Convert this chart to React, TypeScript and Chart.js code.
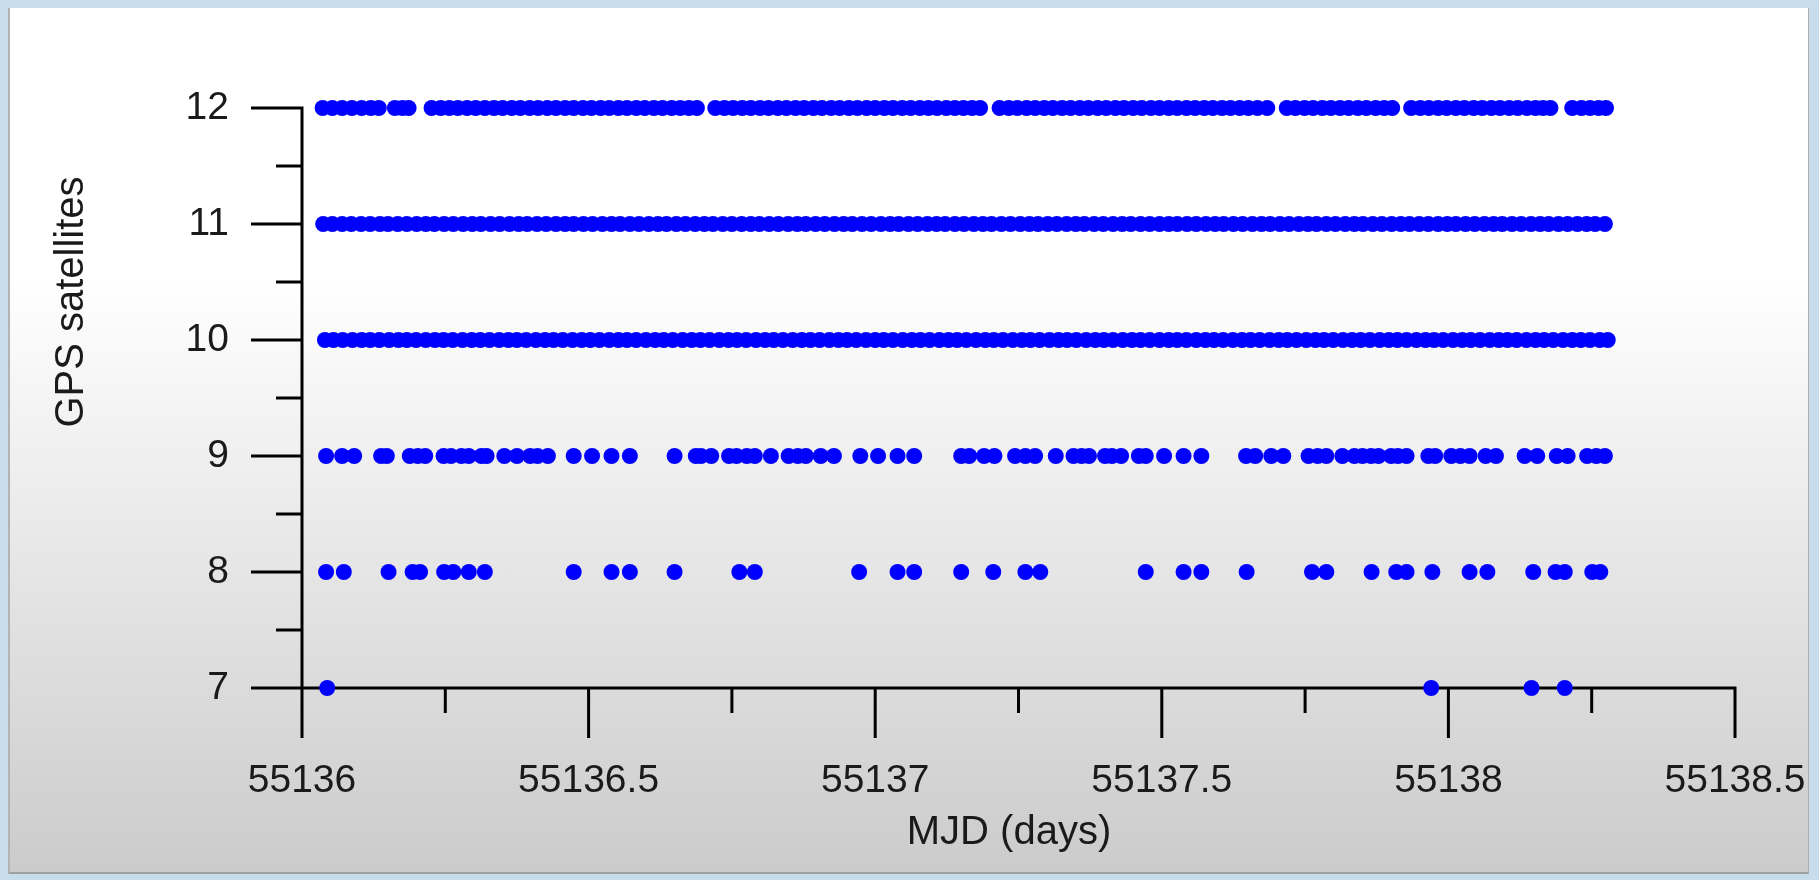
import { useEffect, useRef } from 'react';
import { Chart, registerables } from 'chart.js';

Chart.register(...registerables);

const MJD_BASE = 55136;

const xTickValues = [55136, 55136.5, 55137, 55137.5, 55138, 55138.5];
const xTickLabels = ['55136', '55136.5', '55137', '55137.5', '55138', '55138.5'];
const xMinorTicks = [55136.25, 55136.75, 55137.25, 55137.75, 55138.25];
const yTickValues = [7, 8, 9, 10, 11, 12];
const yTickLabels = ['7', '8', '9', '10', '11', '12'];
const yMinorTicks = [7.5, 8.5, 9.5, 10.5, 11.5];
const xTitle = 'MJD (days)';
const yTitle = 'GPS satellites';

// day offsets from MJD_BASE for each satellite count
const row12 = [
  0.036, 0.053, 0.070, 0.087, 0.104, 0.120, 0.134,
  0.162, 0.175, 0.186,
  0.226, 0.242, 0.257, 0.272, 0.288, 0.303, 0.319, 0.335, 0.350, 0.366, 0.381, 0.397, 0.412, 0.428, 0.443, 0.459,
  0.474, 0.490, 0.505, 0.521, 0.536, 0.552, 0.567, 0.583, 0.598, 0.614, 0.629, 0.645, 0.660, 0.675, 0.689,
  0.721, 0.737, 0.752, 0.768, 0.783, 0.799, 0.814, 0.830, 0.845, 0.861, 0.876, 0.892, 0.907, 0.923, 0.938, 0.954,
  0.969, 0.985, 1.000, 1.016, 1.031, 1.047, 1.062, 1.078, 1.093, 1.108, 1.124, 1.139, 1.154, 1.169, 1.183,
  1.217, 1.233, 1.248, 1.264, 1.279, 1.295, 1.310, 1.326, 1.341, 1.357, 1.372, 1.388, 1.403, 1.419, 1.434, 1.450,
  1.465, 1.481, 1.496, 1.512, 1.527, 1.543, 1.558, 1.574, 1.589, 1.605, 1.620, 1.636, 1.651, 1.667, 1.684,
  1.718, 1.733, 1.749, 1.764, 1.780, 1.795, 1.811, 1.826, 1.842, 1.857, 1.873, 1.888, 1.902,
  1.935, 1.951, 1.966, 1.982, 1.997, 2.013, 2.028, 2.044, 2.059, 2.075, 2.090, 2.106, 2.121, 2.137, 2.152, 2.165, 2.178,
  2.216, 2.232, 2.247, 2.262, 2.275,
];

const row11 = [
  0.037, 0.053, 0.070, 0.086, 0.103, 0.119, 0.136, 0.150, 0.167, 0.183, 0.200, 0.216, 0.231, 0.248, 0.264, 0.281,
  0.297, 0.312, 0.329, 0.345, 0.362, 0.378, 0.393, 0.410, 0.426, 0.443, 0.459, 0.474, 0.491, 0.507, 0.524, 0.540,
  0.555, 0.572, 0.588, 0.605, 0.621, 0.636, 0.653, 0.669, 0.686, 0.702, 0.717, 0.734, 0.750, 0.767, 0.783, 0.798,
  0.815, 0.831, 0.848, 0.864, 0.879, 0.896, 0.912, 0.929, 0.945, 0.960, 0.977, 0.993, 1.010, 1.026, 1.041, 1.058,
  1.074, 1.091, 1.107, 1.122, 1.139, 1.155, 1.172, 1.188, 1.203, 1.220, 1.236, 1.253, 1.269, 1.284, 1.301, 1.317,
  1.334, 1.350, 1.365, 1.382, 1.398, 1.415, 1.431, 1.446, 1.463, 1.479, 1.496, 1.512, 1.527, 1.544, 1.560, 1.577,
  1.593, 1.608, 1.625, 1.641, 1.658, 1.674, 1.689, 1.706, 1.722, 1.739, 1.755, 1.770, 1.787, 1.803, 1.820, 1.836,
  1.851, 1.868, 1.884, 1.901, 1.917, 1.932, 1.949, 1.965, 1.982, 1.998, 2.013, 2.030, 2.046, 2.063, 2.079, 2.094,
  2.111, 2.127, 2.144, 2.160, 2.175, 2.192, 2.208, 2.225, 2.241, 2.256, 2.273,
];

const row10 = [
  0.040, 0.055, 0.071, 0.088, 0.104, 0.119, 0.135, 0.152, 0.168, 0.183, 0.199, 0.216, 0.232, 0.247, 0.263, 0.280,
  0.296, 0.311, 0.327, 0.344, 0.360, 0.375, 0.391, 0.408, 0.424, 0.439, 0.455, 0.472, 0.488, 0.503, 0.519, 0.536,
  0.552, 0.567, 0.583, 0.600, 0.616, 0.631, 0.647, 0.664, 0.680, 0.695, 0.711, 0.728, 0.744, 0.759, 0.775, 0.792,
  0.808, 0.823, 0.839, 0.856, 0.872, 0.887, 0.903, 0.920, 0.936, 0.951, 0.967, 0.984, 1.000, 1.015, 1.031, 1.048,
  1.064, 1.079, 1.095, 1.112, 1.128, 1.143, 1.159, 1.176, 1.192, 1.207, 1.223, 1.240, 1.256, 1.271, 1.287, 1.304,
  1.320, 1.335, 1.351, 1.368, 1.384, 1.399, 1.415, 1.432, 1.448, 1.463, 1.479, 1.496, 1.512, 1.527, 1.543, 1.560,
  1.576, 1.591, 1.607, 1.624, 1.640, 1.655, 1.671, 1.688, 1.704, 1.719, 1.735, 1.752, 1.768, 1.783, 1.799, 1.816,
  1.832, 1.847, 1.863, 1.880, 1.896, 1.911, 1.927, 1.944, 1.960, 1.975, 1.991, 2.008, 2.024, 2.039, 2.055, 2.072,
  2.088, 2.103, 2.119, 2.136, 2.152, 2.167, 2.183, 2.200, 2.216, 2.231, 2.247, 2.264, 2.278,
];

const row9 = [
  0.042, 0.070, 0.091, 0.138, 0.148, 0.188, 0.202, 0.215, 0.247, 0.260, 0.278, 0.291, 0.313, 0.322, 0.353, 0.375,
  0.398, 0.411, 0.429, 0.474, 0.506, 0.540, 0.572, 0.650, 0.687, 0.696, 0.714, 0.745, 0.758, 0.776, 0.790, 0.818,
  0.849, 0.865, 0.879, 0.905, 0.928, 0.974, 1.005, 1.039, 1.068, 1.150, 1.164, 1.190, 1.208, 1.244, 1.262, 1.279,
  1.315, 1.346, 1.360, 1.373, 1.401, 1.413, 1.429, 1.460, 1.472, 1.504, 1.538, 1.569, 1.647, 1.663, 1.691, 1.712,
  1.756, 1.772, 1.787, 1.815, 1.836, 1.850, 1.865, 1.878, 1.900, 1.912, 1.927, 1.965, 1.977, 2.005, 2.021, 2.037,
  2.065, 2.083, 2.133, 2.155, 2.189, 2.208, 2.242, 2.258, 2.273,
];

const row8 = [
  0.042, 0.073, 0.151, 0.193, 0.206, 0.248, 0.264, 0.291, 0.319, 0.474, 0.540, 0.572, 0.650, 0.763, 0.790, 0.972,
  1.039, 1.068, 1.150, 1.206, 1.262, 1.288, 1.472, 1.538, 1.569, 1.648, 1.762, 1.787, 1.866, 1.909, 1.927, 1.972,
  2.037, 2.068, 2.148, 2.187, 2.203, 2.251, 2.265,
];

const row7 = [0.044, 1.970, 2.145, 2.203];

const rows: { count: number; days: number[] }[] = [
  { count: 12, days: row12 },
  { count: 11, days: row11 },
  { count: 10, days: row10 },
  { count: 9, days: row9 },
  { count: 8, days: row8 },
  { count: 7, days: row7 },
];

const FONT = "'Liberation Sans', Arial, sans-serif";

const axisDecor = {
  id: 'axisDecor',
  beforeDatasetsDraw(chart: any) {
    const { ctx, scales } = chart;
    const xs = scales.x;
    const ys = scales.y;
    const left = xs.getPixelForValue(xTickValues[0]);
    const right = xs.getPixelForValue(xTickValues[xTickValues.length - 1]);
    const top = ys.getPixelForValue(yTickValues[yTickValues.length - 1]);
    const bottom = ys.getPixelForValue(yTickValues[0]);
    ctx.save();
    ctx.strokeStyle = '#000';
    ctx.lineWidth = 3;
    ctx.lineCap = 'butt';
    ctx.beginPath();
    ctx.moveTo(left, top - 1.5);
    ctx.lineTo(left, bottom);
    ctx.moveTo(left, bottom);
    ctx.lineTo(right + 1.5, bottom);
    for (const v of yTickValues) {
      const p = ys.getPixelForValue(v);
      ctx.moveTo(left - 51, p);
      ctx.lineTo(left, p);
    }
    for (const v of yMinorTicks) {
      const p = ys.getPixelForValue(v);
      ctx.moveTo(left - 26, p);
      ctx.lineTo(left, p);
    }
    for (const v of xTickValues) {
      const p = xs.getPixelForValue(v);
      ctx.moveTo(p, bottom);
      ctx.lineTo(p, bottom + 50);
    }
    for (const v of xMinorTicks) {
      const p = xs.getPixelForValue(v);
      ctx.moveTo(p, bottom);
      ctx.lineTo(p, bottom + 25);
    }
    ctx.stroke();

    ctx.fillStyle = '#1a1a1a';
    ctx.font = `40px ${FONT}`;
    ctx.textAlign = 'center';
    ctx.textBaseline = 'middle';
    ctx.fillText(xTitle, 1009, 833);
    ctx.translate(72, 302);
    ctx.rotate(-Math.PI / 2);
    ctx.fillText(yTitle, 0, 0);
    ctx.restore();
  },
};

export default function App() {
  const canvasRef = useRef<HTMLCanvasElement | null>(null);

  useEffect(() => {
    const canvas = canvasRef.current;
    if (!canvas) return;
    const chart = new Chart(canvas, {
      type: 'scatter',
      data: {
        datasets: rows.map((r) => ({
          label: `${r.count}`,
          data: r.days.map((d) => ({ x: MJD_BASE + d, y: r.count })),
          backgroundColor: '#0000ff',
          borderColor: '#0000ff',
          borderWidth: 0,
          pointRadius: 8,
          pointHoverRadius: 8,
          clip: false as any,
        })),
      },
      options: {
        animation: false,
        responsive: false,
        devicePixelRatio: 1,
        events: [],
        layout: { padding: { left: 0, top: 108, right: 84, bottom: 0 } },
        plugins: {
          legend: { display: false },
          tooltip: { enabled: false },
          title: { display: false },
        },
        scales: {
          x: {
            type: 'linear',
            min: xTickValues[0],
            max: xTickValues[xTickValues.length - 1],
            afterFit: (s: any) => {
              s.height = 192;
              s.paddingLeft = 0;
              s.paddingRight = 0;
            },
            afterBuildTicks: (s: any) => {
              s.ticks = xTickValues.map((v) => ({ value: v }));
            },
            grid: { display: false, drawTicks: false },
            border: { display: false },
            ticks: {
              autoSkip: false,
              maxRotation: 0,
              minRotation: 0,
              padding: 70,
              color: '#1a1a1a',
              font: { family: FONT, size: 39 },
              callback: (v: any) => {
                const i = xTickValues.indexOf(Number(v));
                return i >= 0 ? xTickLabels[i] : '';
              },
            },
          },
          y: {
            type: 'linear',
            min: yTickValues[0],
            max: yTickValues[yTickValues.length - 1],
            afterFit: (s: any) => {
              s.width = 302;
              s.paddingTop = 0;
              s.paddingBottom = 0;
            },
            afterBuildTicks: (s: any) => {
              s.ticks = yTickValues.map((v) => ({ value: v }));
            },
            grid: { display: false, drawTicks: false },
            border: { display: false },
            ticks: {
              autoSkip: false,
              padding: 73,
              color: '#1a1a1a',
              font: { family: FONT, size: 39 },
              callback: (v: any) => {
                const i = yTickValues.indexOf(Number(v));
                return i >= 0 ? yTickLabels[i] : '';
              },
            },
          },
        },
      },
      plugins: [axisDecor],
    });
    return () => chart.destroy();
  }, []);

  return (
    <div
      style={{
        position: 'fixed',
        left: 0,
        top: 0,
        width: 1819,
        height: 880,
        background: 'rgb(199,221,235)',
        overflow: 'hidden',
      }}
    >
      <div
        style={{
          position: 'absolute',
          left: 8,
          top: 8,
          width: 1798,
          height: 864,
          borderLeft: '2px solid #b3b3b3',
          borderRight: '1px solid #b0b0b0',
          borderBottom: '2px solid #a0a0a0',
          background: 'linear-gradient(to bottom, #ffffff 0px, #ffffff 270px, #cbcbcb 866px)',
        }}
      />
      <canvas
        ref={canvasRef}
        width={1819}
        height={880}
        style={{ position: 'absolute', left: 0, top: 0, width: 1819, height: 880 }}
      />
    </div>
  );
}
